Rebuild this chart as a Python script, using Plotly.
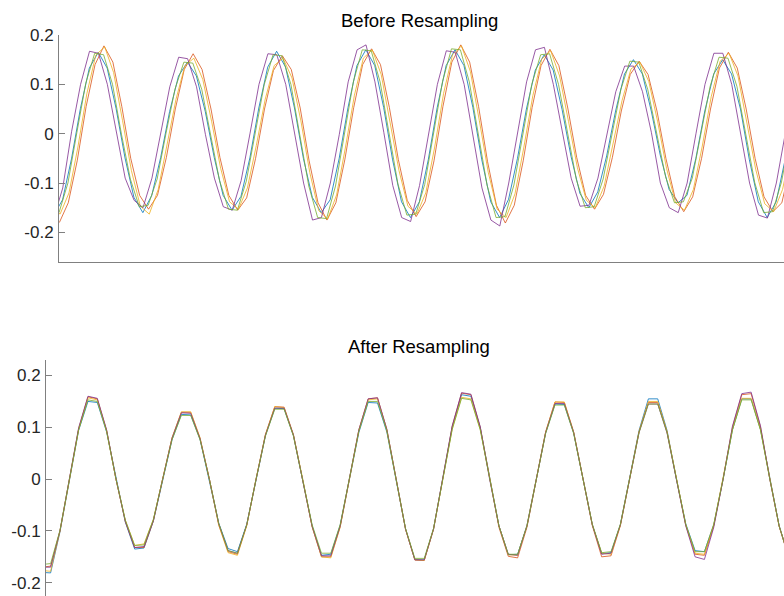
import numpy as np
import plotly.graph_objects as go

W, H = 784, 596

SERIES = ["blue", "orange", "yellow", "purple", "green"]
COLORS = {
    "blue": "#0072BD",
    "orange": "#D95319",
    "yellow": "#EDB120",
    "purple": "#7E2F8E",
    "green": "#77AC30",
}

# ---------------- Before resampling ----------------
# Each sensor starts at its own time offset (in sample periods), step = 1 sample.
before_start = {"blue": -0.6, "orange": 0.04, "yellow": -0.88, "purple": -0.58, "green": 0.0}

before_blue = [
    -0.165, -0.134, -0.051, 0.051, 0.133, 0.165, 0.133, 0.051, -0.049, -0.129,
    -0.160, -0.125, -0.048, 0.045, 0.117, 0.145, 0.117, 0.045, -0.048, -0.125,
    -0.155, -0.127, -0.049, 0.052, 0.135, 0.167, 0.135, 0.052, -0.050, -0.129,
    -0.160, -0.134, -0.051, 0.053, 0.138, 0.170, 0.138, 0.053, -0.053, -0.138,
    -0.170, -0.138, -0.053, 0.053, 0.138, 0.170, 0.138, 0.053, -0.053, -0.138,
    -0.170, -0.133, -0.050, 0.050, 0.129, 0.160, 0.129, 0.049, -0.046, -0.121,
    -0.150, -0.118, -0.045, 0.046, 0.121, 0.150, 0.121, 0.046, -0.043, -0.113,
    -0.140, -0.125, -0.050, 0.046, 0.121, 0.150, 0.121, 0.050, -0.053, -0.138,
    -0.170, -0.138, -0.053,
]
before_orange = [
    -0.180, -0.140, -0.055, 0.055, 0.140, 0.178, 0.145, 0.055, -0.050, -0.125,
    -0.153, -0.125, -0.048, 0.050, 0.130, 0.162, 0.130, 0.050, -0.048, -0.125,
    -0.155, -0.130, -0.050, 0.050, 0.128, 0.158, 0.130, 0.052, -0.055, -0.140,
    -0.175, -0.140, -0.053, 0.053, 0.140, 0.172, 0.140, 0.053, -0.052, -0.135,
    -0.168, -0.138, -0.055, 0.055, 0.145, 0.180, 0.145, 0.055, -0.056, -0.145,
    -0.181, -0.145, -0.055, 0.053, 0.138, 0.171, 0.138, 0.052, -0.048, -0.125,
    -0.153, -0.123, -0.048, 0.046, 0.120, 0.147, 0.120, 0.046, -0.050, -0.128,
    -0.158, -0.128, -0.050, 0.050, 0.133, 0.165, 0.133, 0.050, -0.050, -0.128,
    -0.158, -0.140, -0.060,
]
before_yellow = [
    -0.147,
    -0.163, -0.120, -0.027, 0.081, 0.159, 0.176, 0.124, 0.027, -0.075, -0.147,
    -0.163, -0.113, -0.024, 0.070, 0.138, 0.153, 0.110, 0.024, -0.070, -0.138,
    -0.153, -0.110, -0.024, 0.070, 0.138, 0.153, 0.113, 0.026, -0.079, -0.156,
    -0.173, -0.124, -0.027, 0.078, 0.153, 0.170, 0.120, 0.026, -0.075, -0.147,
    -0.163, -0.120, -0.027, 0.082, 0.160, 0.178, 0.126, 0.027, -0.078, -0.153,
    -0.170, -0.122, -0.027, 0.077, 0.151, 0.168, 0.117, 0.025, -0.069, -0.135,
    -0.150, -0.106, -0.023, 0.067, 0.131, 0.145, 0.106, 0.024, -0.071, -0.140,
    -0.155, -0.113, -0.025, 0.075, 0.147, 0.163, 0.117, 0.025, -0.073, -0.142,
    -0.158, -0.113, -0.025,
]
before_purple = [
    -0.170, -0.110, 0.005, 0.100, 0.167, 0.163, 0.100, 0.002, -0.090, -0.135,
    -0.150, -0.090, 0.003, 0.095, 0.155, 0.152, 0.095, -0.002, -0.090, -0.148,
    -0.155, -0.095, 0.001, 0.100, 0.162, 0.160, 0.100, 0.003, -0.100, -0.175,
    -0.170, -0.100, -0.002, 0.105, 0.170, 0.180, 0.105, 0.002, -0.105, -0.170,
    -0.178, -0.105, 0.001, 0.100, 0.168, 0.165, 0.100, -0.003, -0.110, -0.175,
    -0.187, -0.100, 0.002, 0.105, 0.170, 0.175, 0.100, 0.001, -0.090, -0.147,
    -0.145, -0.090, -0.002, 0.085, 0.137, 0.137, 0.085, 0.002, -0.100, -0.150,
    -0.160, -0.100, 0.001, 0.100, 0.163, 0.163, 0.100, -0.002, -0.100, -0.165,
    -0.171, -0.100, 0.000,
]
before_green = [
    -0.160, -0.100, 0.002, 0.102, 0.163, 0.160, 0.100, -0.001, -0.092, -0.148,
    -0.145, -0.092, 0.001, 0.090, 0.145, 0.143, 0.090, 0.000, -0.095, -0.153,
    -0.155, -0.096, 0.002, 0.099, 0.160, 0.158, 0.100, -0.001, -0.106, -0.170,
    -0.172, -0.106, 0.000, 0.105, 0.170, 0.168, 0.105, 0.001, -0.102, -0.165,
    -0.163, -0.103, -0.001, 0.106, 0.172, 0.170, 0.105, 0.000, -0.105, -0.170,
    -0.168, -0.104, 0.001, 0.100, 0.160, 0.162, 0.100, 0.000, -0.093, -0.150,
    -0.148, -0.092, 0.001, 0.090, 0.147, 0.145, 0.090, -0.001, -0.087, -0.140,
    -0.138, -0.090, 0.000, 0.096, 0.155, 0.153, 0.096, 0.001, -0.099, -0.160,
    -0.158, -0.098, 0.000,
]

# ---------------- After resampling ----------------
# All sensors on a common time grid starting at sample -1.
after_start = -1
after_blue = [
    -0.180, -0.181, -0.102, -0.002, 0.094, 0.150, 0.148, 0.091, 0.001, -0.083,
    -0.135, -0.133, -0.081, 0.000, 0.076, 0.125, 0.124, 0.077, -0.001, -0.085,
    -0.134, -0.140, -0.087, 0.001, 0.084, 0.137, 0.136, 0.084, 0.000, -0.090,
    -0.147, -0.145, -0.089, 0.001, 0.090, 0.148, 0.147, 0.091, 0.000, -0.096,
    -0.155, -0.156, -0.096, 0.000, 0.100, 0.163, 0.160, 0.099, 0.001, -0.090,
    -0.146, -0.145, -0.090, 0.000, 0.089, 0.145, 0.144, 0.089, 0.000, -0.088,
    -0.144, -0.142, -0.088, 0.001, 0.094, 0.155, 0.155, 0.094, 0.000, -0.086,
    -0.138, -0.140, -0.088, 0.000, 0.095, 0.155, 0.155, 0.096, 0.000, -0.090,
    -0.150, -0.151,
]
after_orange = [
    -0.170, -0.168, -0.100, 0.000, 0.097, 0.159, 0.155, 0.094, 0.000, -0.082,
    -0.132, -0.132, -0.081, 0.001, 0.079, 0.129, 0.129, 0.079, 0.000, -0.088,
    -0.140, -0.145, -0.089, 0.000, 0.086, 0.140, 0.139, 0.086, 0.000, -0.092,
    -0.150, -0.150, -0.092, 0.000, 0.095, 0.155, 0.157, 0.096, 0.000, -0.097,
    -0.156, -0.157, -0.097, 0.000, 0.102, 0.166, 0.163, 0.100, 0.000, -0.093,
    -0.149, -0.152, -0.093, 0.000, 0.091, 0.149, 0.148, 0.091, 0.000, -0.090,
    -0.150, -0.148, -0.090, 0.000, 0.091, 0.148, 0.148, 0.091, 0.000, -0.089,
    -0.145, -0.147, -0.090, 0.000, 0.100, 0.163, 0.165, 0.101, 0.000, -0.091,
    -0.150, -0.150,
]
after_yellow = [
    -0.176, -0.178, -0.101, 0.001, 0.096, 0.157, 0.153, 0.093, 0.000, -0.079,
    -0.128, -0.125, -0.078, 0.000, 0.080, 0.130, 0.130, 0.080, 0.000, -0.089,
    -0.142, -0.147, -0.090, 0.001, 0.086, 0.140, 0.138, 0.085, 0.000, -0.092,
    -0.150, -0.152, -0.093, 0.000, 0.094, 0.153, 0.155, 0.095, 0.000, -0.096,
    -0.156, -0.157, -0.096, 0.000, 0.097, 0.158, 0.155, 0.096, 0.000, -0.090,
    -0.146, -0.147, -0.090, 0.000, 0.091, 0.149, 0.149, 0.091, 0.000, -0.088,
    -0.143, -0.145, -0.089, 0.000, 0.092, 0.150, 0.150, 0.092, 0.000, -0.088,
    -0.143, -0.145, -0.089, 0.000, 0.096, 0.156, 0.156, 0.096, 0.000, -0.091,
    -0.148, -0.149,
]
after_purple = [
    -0.170, -0.170, -0.100, 0.000, 0.099, 0.160, 0.156, 0.095, 0.000, -0.081,
    -0.132, -0.130, -0.080, 0.000, 0.079, 0.128, 0.127, 0.078, 0.000, -0.086,
    -0.138, -0.143, -0.088, 0.000, 0.085, 0.137, 0.137, 0.085, 0.000, -0.091,
    -0.148, -0.148, -0.091, 0.000, 0.095, 0.155, 0.157, 0.096, 0.000, -0.096,
    -0.156, -0.156, -0.096, 0.000, 0.103, 0.167, 0.164, 0.101, 0.000, -0.090,
    -0.145, -0.147, -0.090, 0.000, 0.090, 0.146, 0.146, 0.090, 0.000, -0.088,
    -0.145, -0.143, -0.088, 0.000, 0.090, 0.145, 0.145, 0.089, 0.000, -0.090,
    -0.150, -0.155, -0.093, 0.000, 0.102, 0.165, 0.168, 0.103, 0.000, -0.090,
    -0.148, -0.150,
]
after_green = [
    -0.165, -0.163, -0.099, 0.000, 0.095, 0.153, 0.150, 0.092, 0.000, -0.079,
    -0.128, -0.127, -0.078, 0.000, 0.076, 0.123, 0.123, 0.076, 0.000, -0.085,
    -0.138, -0.143, -0.088, 0.000, 0.083, 0.135, 0.135, 0.083, 0.000, -0.088,
    -0.143, -0.143, -0.088, 0.000, 0.092, 0.150, 0.150, 0.093, 0.000, -0.095,
    -0.153, -0.153, -0.095, 0.000, 0.096, 0.156, 0.153, 0.095, 0.000, -0.090,
    -0.145, -0.145, -0.090, 0.000, 0.088, 0.143, 0.143, 0.088, 0.000, -0.087,
    -0.142, -0.140, -0.087, 0.000, 0.090, 0.145, 0.145, 0.090, 0.000, -0.087,
    -0.140, -0.140, -0.087, 0.000, 0.095, 0.153, 0.153, 0.095, 0.000, -0.090,
    -0.148, -0.149,
]

ytick_vals = [-0.2, -0.1, 0, 0.1, 0.2]
ytick_text = ["-0.2", "-0.1", "0", "0.1", "0.2"]

before = {"blue": before_blue, "orange": before_orange, "yellow": before_yellow,
          "purple": before_purple, "green": before_green}
after = {"blue": after_blue, "orange": after_orange, "yellow": after_yellow,
         "purple": after_purple, "green": after_green}

fig = go.Figure()

for name in SERIES:
    vals = before[name]
    t = before_start[name] + np.arange(len(vals))
    fig.add_trace(go.Scatter(x=t, y=vals, mode="lines", xaxis="x", yaxis="y",
                             line=dict(color=COLORS[name], width=0.8),
                             showlegend=False, hoverinfo="skip"))

for name in SERIES:
    vals = after[name]
    t = after_start + np.arange(len(vals))
    fig.add_trace(go.Scatter(x=t, y=vals, mode="lines", xaxis="x2", yaxis="y2",
                             line=dict(color=COLORS[name], width=0.8),
                             showlegend=False, hoverinfo="skip"))

AXIS_GRAY = "#808080"
FONT = "Liberation Sans, Arial, sans-serif"
tick_font = dict(family=FONT, size=17, color="#262626")

def yaxis_style(domain, rng, anchor):
    return dict(domain=domain, range=rng, anchor=anchor, automargin=False,
                tickmode="array", tickvals=ytick_vals, ticktext=ytick_text,
                ticks="inside", ticklen=6, tickwidth=1, tickcolor=AXIS_GRAY,
                showline=True, linecolor=AXIS_GRAY, linewidth=1,
                showgrid=False, zeroline=False, tickfont=tick_font,
                ticklabelstandoff=1, fixedrange=True)

fig.update_layout(
    width=W, height=H,
    margin=dict(l=0, r=0, t=0, b=0, autoexpand=False),
    paper_bgcolor="white", plot_bgcolor="white",
    xaxis=dict(domain=[59 / W, 1], range=[0, 81.28], anchor="y", automargin=False,
               showline=True, linecolor=AXIS_GRAY, linewidth=1,
               ticks="", showticklabels=False, showgrid=False, zeroline=False,
               fixedrange=True),
    yaxis=yaxis_style([1 - 262 / H, 1 - 35 / H], [-0.26, 0.2], "x"),
    xaxis2=dict(domain=[46 / W, 1], range=[-0.4925, 78.52], anchor="y2", automargin=False,
                showline=False, ticks="", showticklabels=False, showgrid=False,
                zeroline=False, fixedrange=True),
    yaxis2=yaxis_style([0, 1 - 360 / H], [-0.2256, 0.23], "x2"),
    annotations=[
        dict(text="Before Resampling", x=419 / W, y=1 - 21 / H, xref="paper", yref="paper",
             xanchor="center", yanchor="middle", showarrow=False,
             font=dict(family=FONT, size=18.5, color="#000000")),
        dict(text="After Resampling", x=419 / W, y=1 - 346 / H, xref="paper", yref="paper",
             xanchor="center", yanchor="middle", showarrow=False,
             font=dict(family=FONT, size=18.5, color="#000000")),
    ],
)

fig.write_html("out.html")
